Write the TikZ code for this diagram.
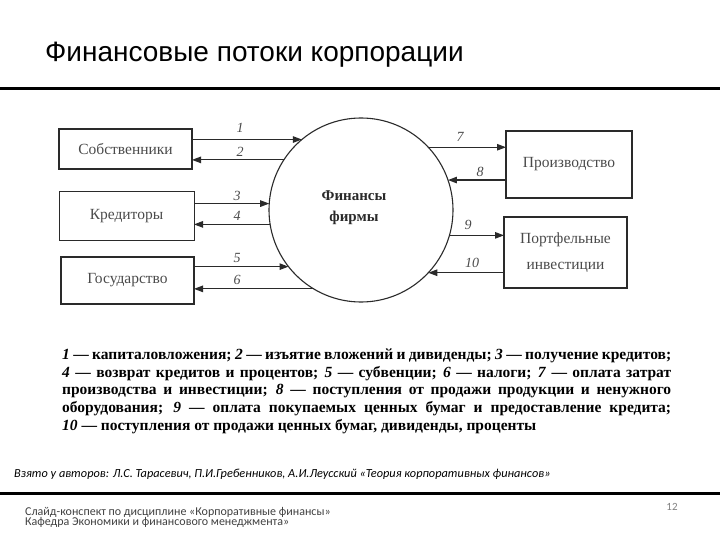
\documentclass[tikz,border=0pt]{standalone}
\usepackage{fontspec}
\setmainfont{Liberation Serif}
\newfontfamily\titlefont{Liberation Sans}
\newfontfamily\califont{Carlito}
\usetikzlibrary{arrows.meta}
\definecolor{ink}{HTML}{2A2A2A}
\definecolor{boxtext}{HTML}{4A4A4A}
\definecolor{foot}{HTML}{404040}
\begin{document}
\begin{tikzpicture}[x=1pt,y=-1pt,
  box/.style={draw=ink, rectangle, inner sep=0pt, outer sep=0pt, text=boxtext, font=\fontsize{15.5}{26}\selectfont, align=center},
  conn/.style={draw=ink, line width=1.1pt, -{Triangle[length=9pt,width=6.5pt]}},
  num/.style={font=\fontsize{14}{14}\selectfont\itshape, text=boxtext, inner sep=0pt},
  legend/.style={anchor=base west, inner sep=0pt, font=\fontsize{15.5}{18}\selectfont\bfseries, text=black},
  rule/.style={line width=3pt, draw=black}
]
\useasboundingbox (0,0) rectangle (720,540);
% title
\node[anchor=base west, inner sep=0pt, font=\titlefont\fontsize{28}{28}\selectfont] (title) at (45,62) {Финансовые потоки корпорации};
\coordinate (rl1) at (0,89); \coordinate (rr1) at (720,89);
\draw[rule] (rl1) -- (rr1);
% boxes
\node[box, line width=1.3pt, minimum width=133pt, minimum height=40pt] (sob) at (125.5,149) {Собственники};
\node[box, line width=1.0pt, minimum width=135pt, minimum height=48pt] (kred) at (126.5,216) {Кредиторы};
\node[box, line width=1.8pt, minimum width=133pt, minimum height=47pt] (gos) at (127.5,280.5) {Государство};
\node[box, line width=2pt, minimum width=126pt, minimum height=67pt] (proiz) at (569,164.5) {Производство};
\node[box, line width=1.8pt, minimum width=123pt, minimum height=71pt] (port) at (565.5,252.5) {Портфельные\\инвестиции};
% circle
\node[circle, draw=ink, line width=1.1pt, minimum size=184pt, inner sep=0pt, outer sep=0pt] (fin) at (361,210) {};
\node[font=\fontsize{15}{21}\selectfont\bfseries, text=ink, align=center, inner sep=0pt] (finlbl) at (354,208) {Финансы\\фирмы};
% connectors left
\draw[conn] (sob.east |- fin.130) -- (fin.130);
\draw[conn] (fin.147) -- (sob.east |- fin.147);
\draw[conn] (kred.east |- fin.176) -- (fin.176);
\draw[conn] (fin.189) -- (kred.east |- fin.189);
\draw[conn] (gos.east |- fin.218) -- (fin.218);
\draw[conn] (fin.239) -- (gos.east |- fin.239);
% connectors right
\draw[conn] (fin.43) -- (proiz.west |- fin.43);
\draw[conn] (proiz.west |- fin.19) -- (fin.19);
\draw[conn] (fin.344) -- (port.west |- fin.344);
\draw[conn] (port.west |- fin.317) -- (fin.317);
% numbers
\node[num] (n1) at (240,128) {1};
\node[num] (n2) at (240,152) {2};
\node[num] (n3) at (237,196) {3};
\node[num] (n4) at (237,216) {4};
\node[num] (n5) at (237,258) {5};
\node[num] (n6) at (237,280) {6};
\node[num] (n7) at (460,137) {7};
\node[num] (n8) at (480,172) {8};
\node[num] (n9) at (468,225) {9};
\node[num] (n10) at (472,263) {10};
% legend
\node[legend] (l1) at (62,359) {\makebox[609pt][s]{\textit{1} — капиталовложения; \textit{2} — изъятие вложений и дивиденды; \textit{3} — получение кредитов;}};
\node[legend] (l2) at (62,377) {\makebox[609pt][s]{\textit{4} — возврат кредитов и процентов; \textit{5} — субвенции; \textit{6} — налоги; \textit{7} — оплата затрат}};
\node[legend] (l3) at (62,394.5) {\makebox[609pt][s]{производства и инвестиции; \textit{8} — поступления от продажи продукции и ненужного}};
\node[legend] (l4) at (62,412) {\makebox[609pt][s]{оборудования; \textit{9} — оплата покупаемых ценных бумаг и предоставление кредита;}};
\node[legend] (l5) at (62,430) {\textit{10} — поступления от продажи ценных бумаг, дивиденды, проценты};
% citation
\node[anchor=base west, inner sep=0pt, font=\califont\itshape\fontsize{12.3}{12}\selectfont] (cite) at (14,477) {Взято у авторов: Л.С. Тарасевич, П.И.Гребенников, А.И.Леусский «Теория корпоративных финансов»};
\coordinate (rl2) at (0,493); \coordinate (rr2) at (720,493);
\draw[rule] (rl2) -- (rr2);
% footer
\node[anchor=base west, inner sep=0pt, text=foot, font=\califont\fontsize{12}{10}\selectfont] (f1) at (25,515) {Слайд-конспект по дисциплине «Корпоративные финансы»};
\node[anchor=base west, inner sep=0pt, text=foot, font=\califont\fontsize{12}{10}\selectfont] (f2) at (25,525.5) {Кафедра Экономики и финансового менеджмента»};
\node[anchor=center, inner sep=0pt, text=gray, font=\califont\fontsize{11}{10}\selectfont] (pg) at (672,507) {12};
\end{tikzpicture}
\end{document}
